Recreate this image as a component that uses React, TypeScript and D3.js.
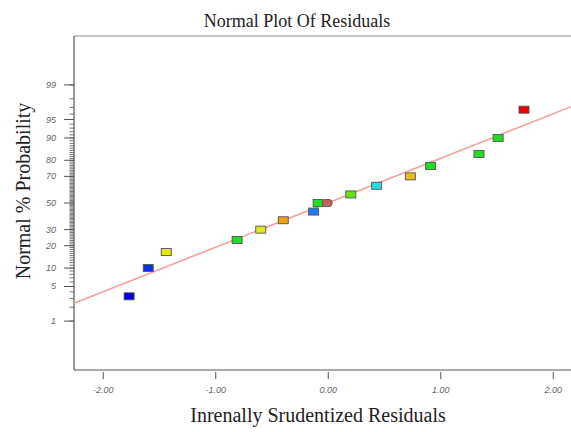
import React, { useRef, useEffect } from 'react';
import * as d3 from 'd3';

// values
const residuals = [-1.77, -1.6, -1.44, -0.81, -0.6, -0.4, -0.13, -0.09, -0.01, 0.2, 0.43, 0.73, 0.91, 1.34, 1.51, 1.74];
const probabilities = [3.3, 10, 16.7, 23.3, 30, 36.7, 43.3, 50, 50, 56.7, 63.3, 70, 76.7, 83.3, 90, 96.7];
const pointColors = [
    '#0000dd', '#0a30e8', '#e6e620', '#22dd22', '#e6e620', '#f0a010', '#1e7cf0', '#22e022',
    '#c86060', '#66e010', '#20e0e0', '#e8c010', '#22dd22', '#22dd22', '#22dd22', '#ee0000'
];
const xTicks = [-2, -1, 0, 1, 2];
const yMajorTicks = [1, 5, 10, 20, 30, 50, 70, 80, 90, 95, 99];
const yMinorTicks = d3.range(1, 100);
const fitSlope = 0.876;
const fitIntercept = 0.006;

// inverse normal cdf (Acklam)
const probit = (p: number) => {
    const a = [-39.69683028665376, 220.9460984245205, -275.9285104469687, 138.357751867269, -30.66479806614716, 2.506628277459239];
    const b = [-54.47609879822406, 161.5858368580409, -155.6989798598866, 66.80131188771972, -13.28068155288572];
    const c = [-0.007784894002430293, -0.3223964580411365, -2.400758277161838, -2.549732539343734, 4.374664141464968, 2.938163982698783];
    const d = [0.007784695709041462, 0.3224671290700398, 2.445134137142996, 3.754408661907416];
    const pl = 0.02425;
    if (p < pl) {
        const q = Math.sqrt(-2 * Math.log(p));
        return (((((c[0] * q + c[1]) * q + c[2]) * q + c[3]) * q + c[4]) * q + c[5]) / ((((d[0] * q + d[1]) * q + d[2]) * q + d[3]) * q + 1);
    }
    if (p > 1 - pl) {
        const q = Math.sqrt(-2 * Math.log(1 - p));
        return -(((((c[0] * q + c[1]) * q + c[2]) * q + c[3]) * q + c[4]) * q + c[5]) / ((((d[0] * q + d[1]) * q + d[2]) * q + d[3]) * q + 1);
    }
    const q = p - 0.5;
    const r = q * q;
    return (((((a[0] * r + a[1]) * r + a[2]) * r + a[3]) * r + a[4]) * r + a[5]) * q / (((((b[0] * r + b[1]) * r + b[2]) * r + b[3]) * r + b[4]) * r + 1);
};

const NormalPlot = ({ width, height }) => {
    const svgRef = useRef(null);

    useEffect(() => {
        const svg = d3.select(svgRef.current);
        svg.selectAll('*').remove();

        const left = 74, top = 36, bottom = 370;
        const x = d3.scaleLinear().domain([-2.26, 2.3]).range([left, left + 4.56 * 112.5]);
        const z = d3.scaleLinear().domain([-3.29, 3.29]).range([bottom, top]);
        const y = (p: number) => z(probit(p / 100));
        const right = x.range()[1];

        svg.append('rect').attr('width', width).attr('height', height).attr('fill', '#fff');

        // frame
        svg.append('line').attr('x1', left).attr('x2', right).attr('y1', top).attr('y2', top)
            .attr('stroke', '#8a8a8a').attr('stroke-width', 1.2);
        svg.append('line').attr('x1', left).attr('x2', left).attr('y1', top).attr('y2', bottom)
            .attr('stroke', '#555').attr('stroke-width', 1.2);
        svg.append('line').attr('x1', left).attr('x2', right).attr('y1', bottom).attr('y2', bottom)
            .attr('stroke', '#555').attr('stroke-width', 1.2);

        // y ticks
        svg.append('g').selectAll('line').data(yMinorTicks).enter().append('line')
            .attr('x1', left - 4.5).attr('x2', left).attr('y1', d => y(d)).attr('y2', d => y(d))
            .attr('stroke', '#555').attr('stroke-width', 0.8);
        svg.append('g').selectAll('line').data(yMajorTicks).enter().append('line')
            .attr('x1', left - 10).attr('x2', left).attr('y1', d => y(d)).attr('y2', d => y(d))
            .attr('stroke', '#555').attr('stroke-width', 1);
        svg.append('g').selectAll('text').data(yMajorTicks).enter().append('text')
            .attr('x', left - 18).attr('y', d => y(d) + 3)
            .attr('text-anchor', 'end')
            .style('font-family', 'Arial, "Liberation Sans", sans-serif')
            .style('font-style', 'italic').style('font-size', '9px').style('fill', '#666')
            .text(d => d);

        // x ticks
        svg.append('g').selectAll('line').data(xTicks).enter().append('line')
            .attr('x1', d => x(d)).attr('x2', d => x(d)).attr('y1', bottom + 2).attr('y2', bottom + 9)
            .attr('stroke', '#555').attr('stroke-width', 1);
        svg.append('g').selectAll('text').data(xTicks).enter().append('text')
            .attr('x', d => x(d)).attr('y', bottom + 23)
            .attr('text-anchor', 'middle')
            .style('font-family', 'Arial, "Liberation Sans", sans-serif')
            .style('font-style', 'italic').style('font-size', '9px').style('fill', '#666')
            .text(d => d.toFixed(2));

        // fit line
        const xs = x.domain();
        svg.append('line')
            .attr('x1', x(xs[0])).attr('y1', z(fitIntercept + fitSlope * xs[0]))
            .attr('x2', x(xs[1])).attr('y2', z(fitIntercept + fitSlope * xs[1]))
            .attr('stroke', '#f4a0a0').attr('stroke-width', 1.6);

        // points
        svg.append('g').selectAll('rect').data(residuals).enter().append('rect')
            .attr('x', d => x(d) - 5).attr('y', (d, i) => y(probabilities[i]) - 3.5)
            .attr('width', 10).attr('height', 7)
            .attr('rx', (d, i) => (i === 8 ? 3 : 0))
            .attr('fill', (d, i) => pointColors[i])
            .attr('stroke', '#555').attr('stroke-width', 0.9);

        // titles
        svg.append('text').attr('x', 297).attr('y', 27).attr('text-anchor', 'middle')
            .style('font-family', '"Liberation Serif", "Times New Roman", serif')
            .style('font-size', '18px').style('fill', '#222')
            .text('Normal Plot Of Residuals');
        svg.append('text').attr('x', 318).attr('y', 422).attr('text-anchor', 'middle')
            .style('font-family', '"Liberation Serif", "Times New Roman", serif')
            .style('font-size', '20px').style('fill', '#222')
            .text('Inrenally Srudentized Residuals');
        svg.append('text')
            .attr('transform', 'translate(30,191) rotate(-90)')
            .attr('text-anchor', 'middle')
            .style('font-family', '"Liberation Serif", "Times New Roman", serif')
            .style('font-size', '20px').style('fill', '#222')
            .text('Normal % Probability');
    }, [width, height]);

    return <svg ref={svgRef} width={width} height={height} style={{ position: 'absolute', left: 0, top: 0, display: 'block' }}></svg>;
};

export default function App() {
    return <NormalPlot width={571} height={432} />;
}
